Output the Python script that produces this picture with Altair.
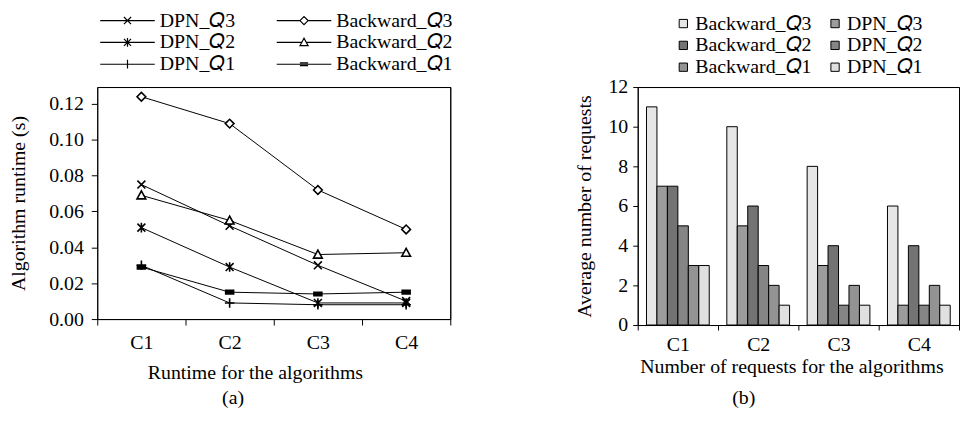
import altair as alt
import pandas as pd

FONT = "Liberation Serif"

categories = ["C1", "C2", "C3", "C4"]

# (a) runtime, series in legend order (row-major, 2 columns)
line_series = ["DPN_Q3", "Backward_Q3", "DPN_Q2", "Backward_Q2", "DPN_Q1", "Backward_Q1"]
runtime_dpn_q3 = [0.075, 0.052, 0.030, 0.010]
runtime_backward_q3 = [0.124, 0.109, 0.072, 0.050]
runtime_dpn_q2 = [0.051, 0.029, 0.009, 0.009]
runtime_backward_q2 = [0.069, 0.055, 0.036, 0.037]
runtime_dpn_q1 = [0.030, 0.009, 0.008, 0.008]
runtime_backward_q1 = [0.029, 0.015, 0.014, 0.015]
runtime_ticks = [0.0, 0.02, 0.04, 0.06, 0.08, 0.10, 0.12]

# (b) average number of requests, series in bar order
bar_series = ["Backward_Q3", "DPN_Q3", "Backward_Q2", "DPN_Q2", "Backward_Q1", "DPN_Q1"]
req_backward_q3 = [11, 10, 8, 6]
req_dpn_q3 = [7, 5, 3, 1]
req_backward_q2 = [7, 6, 4, 4]
req_dpn_q2 = [5, 3, 1, 1]
req_backward_q1 = [3, 2, 2, 2]
req_dpn_q1 = [3, 1, 1, 1]
req_ticks = [0, 2, 4, 6, 8, 10, 12]

runtime = {
    "DPN_Q3": runtime_dpn_q3, "Backward_Q3": runtime_backward_q3,
    "DPN_Q2": runtime_dpn_q2, "Backward_Q2": runtime_backward_q2,
    "DPN_Q1": runtime_dpn_q1, "Backward_Q1": runtime_backward_q1,
}
requests = {
    "Backward_Q3": req_backward_q3, "DPN_Q3": req_dpn_q3,
    "Backward_Q2": req_backward_q2, "DPN_Q2": req_dpn_q2,
    "Backward_Q1": req_backward_q1, "DPN_Q1": req_dpn_q1,
}
df_rt = pd.DataFrame([{"cat": c, "series": s, "value": runtime[s][i]}
                      for s in line_series for i, c in enumerate(categories)])
df_req = pd.DataFrame([{"cat": c, "series": s, "value": requests[s][i]}
                       for s in bar_series for i, c in enumerate(categories)])

# marker glyphs (plot) and line+marker glyphs (legend)
marker_paths = [
    "M-1,-1L1,1M-1,1L1,-1",
    "M-1.1,0L0,-1.1L1.1,0L0,1.1Z",
    "M-1,-1L1,1M-1,1L1,-1M0,-1.2V1.2",
    "M-1.1,0.9L0,-1.1L1.1,0.9Z",
    "M-1.2,0H1.2M0,-1.2V1.2",
    "M-1,-0.45H1V0.45H-1Z",
]
marker_fills = ["white", "white", "white", "white", "white", "black"]
legend_paths = [
    "M-1,0H1M-0.13,-0.13L0.13,0.13M-0.13,0.13L0.13,-0.13",
    "M-1,0H-0.15M0.15,0H1M-0.15,0L0,-0.15L0.15,0L0,0.15Z",
    "M-1,0H1M-0.13,-0.13L0.13,0.13M-0.13,0.13L0.13,-0.13M0,-0.16V0.16",
    "M-1,0H-0.08M0.08,0H1M-0.15,0.12L0,-0.15L0.15,0.12Z",
    "M-1,0H1M0,-0.16V0.16",
    "M-1,0H1M-0.15,-0.05H0.15M-0.15,0.05H0.15",
]
bar_fills = ["#e6e6e6", "#9c9c9c", "#737373", "#858585", "#939393", "#e0e0e0"]

ITAL = "replace(datum.label, 'Q', '\U0001D444')"


def edge_axis(orient):
    # plain frame line along one edge of the plot
    return alt.Axis(orient=orient, labels=False, ticks=False, domain=True, grid=False,
                    title=None)


# ---------------- (a) ----------------
W1, H1 = 356, 234
xs1 = alt.Scale(type="band", domain=categories, paddingInner=0, paddingOuter=0)
ys1 = alt.Scale(domain=[0, 0.1294], nice=False, zero=True)
xax1 = alt.Axis(title="Runtime for the algorithms", labelAngle=0, tickBand="extent",
                tickSize=6, labelPadding=8, titlePadding=10, titleX=159)
yax1 = alt.Axis(title="Algorithm runtime (s)", values=runtime_ticks, format=".2f",
                tickSize=6, labelPadding=8, titlePadding=20, grid=False)

base1 = alt.Chart(df_rt)
lines = base1.mark_line(color="black", strokeWidth=1).encode(
    x=alt.X("cat:N", scale=xs1, axis=xax1),
    y=alt.Y("value:Q", scale=ys1, axis=yax1),
    detail="series:N",
)
points = base1.mark_point(filled=True, stroke="black", strokeWidth=1.6, size=64, opacity=1).encode(
    x=alt.X("cat:N", scale=xs1, axis=None),
    y=alt.Y("value:Q", scale=ys1, axis=None),
    shape=alt.Shape("series:N", scale=alt.Scale(domain=line_series, range=marker_paths), legend=None),
    fill=alt.Fill("series:N", scale=alt.Scale(domain=line_series, range=marker_fills), legend=None),
)
legend_layer = base1.transform_filter("false").mark_point(
    filled=False, color="black", strokeWidth=1.2, opacity=1).encode(
    shape=alt.Shape("series:N", scale=alt.Scale(domain=line_series, range=legend_paths),
                    legend=alt.Legend(title=None, orient="none", legendX=2, legendY=-77,
                                      direction="horizontal",
                                      columns=2, columnPadding=40, rowPadding=2,
                                      symbolSize=3025, symbolStrokeWidth=1.2,
                                      symbolStrokeColor="black", clipHeight=20,
                                      labelOffset=4, labelFontSize=20, labelFont=FONT,
                                      labelExpr=ITAL, padding=0)),
)
top_edge1 = base1.transform_filter("false").mark_point(opacity=1).encode(
    x=alt.X("cat:N", scale=xs1, axis=edge_axis("top")),
)
right_edge1 = base1.transform_filter("false").mark_point(opacity=1).encode(
    y=alt.Y("value:Q", scale=ys1, axis=edge_axis("right")),
)
left = alt.layer(lines, points, legend_layer, top_edge1, right_edge1).resolve_scale(
    shape="independent"
).resolve_axis(
    x="independent", y="independent"
).properties(
    width=W1, height=H1,
    title=alt.TitleParams("(a)", orient="bottom", dx=-41, offset=6, fontSize=20,
                          font=FONT, fontWeight="normal"),
)

# ---------------- (b) ----------------
W2, H2 = 324, 240
xs2 = alt.Scale(type="band", domain=categories, paddingInner=0, paddingOuter=0)
ys2 = alt.Scale(domain=[0, 12], nice=False)
bars = alt.Chart(df_req).mark_bar(stroke="black", strokeWidth=1, opacity=1).encode(
    x=alt.X("cat:N", scale=xs2,
            axis=alt.Axis(title="Number of requests for the algorithms", labelAngle=0,
                          tickBand="extent", tickSize=5, labelPadding=5, titlePadding=2,
                          titleX=155)),
    xOffset=alt.XOffset("series:N", scale=alt.Scale(domain=bar_series, paddingInner=0,
                                                     paddingOuter=0.84)),
    y=alt.Y("value:Q", scale=ys2,
            axis=alt.Axis(title="Average number of requests", values=req_ticks, tickSize=5,
                          labelPadding=5, titlePadding=14, grid=False)),
    color=alt.Color("series:N", scale=alt.Scale(domain=bar_series, range=bar_fills),
                    legend=alt.Legend(title=None, orient="none", legendX=581, legendY=-74,
                                      direction="horizontal",
                                      columns=2, columnPadding=13, rowPadding=2,
                                      symbolType="square", symbolSize=70,
                                      symbolStrokeColor="black", symbolStrokeWidth=1,
                                      clipHeight=20, labelOffset=2, labelFontSize=20,
                                      labelFont=FONT, labelExpr=ITAL, padding=0)),
)
top_edge2 = alt.Chart(df_req).transform_filter("false").mark_point(opacity=1).encode(
    x=alt.X("cat:N", scale=xs2, axis=edge_axis("top")),
)
right = alt.layer(bars, top_edge2).resolve_axis(
    x="independent"
).properties(
    width=W2, height=H2,
    title=alt.TitleParams("(b)", orient="bottom", dx=-55, offset=12, fontSize=20,
                          font=FONT, fontWeight="normal"),
)

chart = alt.hconcat(left, right, spacing=189, bounds="flush").properties(
    padding={"left": 0, "top": 0, "right": 0, "bottom": 0}
).configure_axis(
    labelFont=FONT, titleFont=FONT, labelFontSize=20, titleFontSize=20,
    titleFontWeight="normal", labelColor="black", titleColor="black",
    domainColor="black", tickColor="black", domainWidth=1,
).configure_legend(
    labelColor="black", labelFont=FONT, labelFontSize=20,
).configure_view(
    stroke="black", strokeWidth=1,
).configure_title(
    color="black",
)

chart.save("out.html", embed_options={"renderer": "svg", "actions": False})
